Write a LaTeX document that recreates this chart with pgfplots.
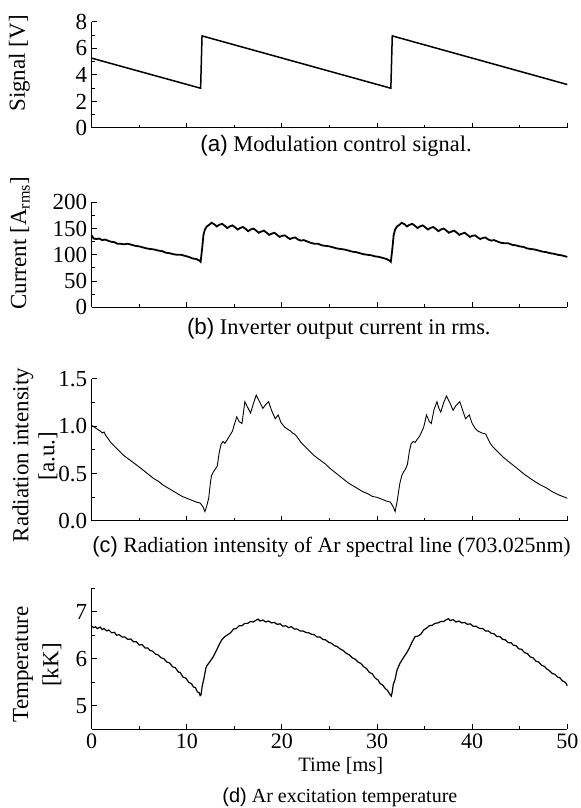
\documentclass[border=0pt]{standalone}
\usepackage{fontspec}
\setmainfont{Liberation Serif}
\newfontfamily\capsans{Liberation Sans}
\usepackage{pgfplots}
\pgfplotsset{compat=1.18}

% one pixel of the reference = 0.5pt
\pgfplotsset{
  panel/.style={
    scale only axis, width=237.8pt,
    xmin=0, xmax=50,
    axis lines=left, axis line style={-, line width=0.5pt},
    tick align=inside, tick style={line width=0.5pt, black},
    major tick length=2.6pt, minor tick length=1.5pt,
    xtick={0,10,...,50}, minor xtick={5,15,...,45},
    xticklabels={},
    /pgf/number format/assume math mode=true,
    tick label style={font=\fontsize{11.5}{13}\selectfont},
    xticklabel style={font=\fontsize{11}{13}\selectfont, inner sep=2pt},
    yticklabel style={xshift=1.3pt},
    clip=false,
  },
}

\begin{document}
\begin{tikzpicture}
\path[use as bounding box] (0,0) rectangle (290.5pt,404pt);

% (a) modulation control signal
\begin{axis}[panel, at={(45.85pt,340pt)}, anchor=south west, height=53pt,
  ymin=0, ymax=8, ytick={0,2,...,8}, minor ytick={1,3,5,7}]
\addplot[black, line width=0.75pt] coordinates {
  (0,5.27) (11.45,3.0) (11.6,6.95) (31.45,3.0) (31.6,6.95) (50,3.28)
};
\end{axis}

% (b) inverter output current
\begin{axis}[panel, at={(45.85pt,250.35pt)}, anchor=south west, height=52.5pt,
  ymin=0, ymax=200, ytick={0,50,...,200}, minor ytick={25,75,125,175}]
\addplot[black, line width=0.9pt] coordinates {
  (0,137) (0.2,131) (0.5,130) (0.8,131) (1.1,128) (1.4,129) (1.7,127) (2.0,125)
  (2.4,124) (2.7,121) (3.0,121) (3.4,120) (3.8,121) (4.2,119) (4.6,117) (5.0,116)
  (5.4,114) (5.8,112) (6.2,111) (6.6,110) (7.0,108) (7.4,107) (7.8,104) (8.2,103)
  (8.6,101) (9.0,100) (9.4,100) (9.8,98) (10.2,96) (10.6,93) (11.0,92) (11.4,88)
  (11.45,87) (11.6,110) (11.75,138) (11.9,148) (12.1,154) (12.35,157) (12.6,161)
  (12.9,158) (13.15,154) (13.4,157) (13.7,159) (14.0,155) (14.25,151) (14.5,154)
  (14.8,156) (15.1,152) (15.35,148) (15.6,151) (15.9,153) (16.2,149) (16.45,145)
  (16.7,148) (17.0,150) (17.3,146) (17.55,142) (17.8,144) (18.1,146) (18.4,142)
  (18.65,138) (18.9,140) (19.2,142) (19.5,138) (19.75,134) (20.0,136) (20.3,137)
  (20.6,133) (20.85,130) (21.1,132) (21.4,133) (21.7,129) (22.0,127) (22.3,128)
  (22.7,125) (23.0,123) (23.4,121) (23.8,121) (24.2,118) (24.6,117) (25.0,116)
  (25.4,114) (25.8,112) (26.2,111) (26.6,110) (27.0,108) (27.4,106) (27.8,105)
  (28.2,103) (28.6,101) (29.0,100) (29.4,99) (29.8,97) (30.2,96) (30.6,94)
  (31.0,92) (31.4,88)
  (31.45,87) (31.6,110) (31.75,138) (31.9,148) (32.1,154) (32.35,157) (32.6,161)
  (32.9,158) (33.15,154) (33.4,157) (33.7,159) (34.0,155) (34.25,151) (34.5,154)
  (34.8,156) (35.1,152) (35.35,148) (35.6,151) (35.9,153) (36.2,149) (36.45,145)
  (36.7,148) (37.0,150) (37.3,146) (37.55,142) (37.8,144) (38.1,146) (38.4,142)
  (38.65,138) (38.9,140) (39.2,142) (39.5,138) (39.75,134) (40.0,136) (40.3,137)
  (40.6,133) (40.85,130) (41.1,132) (41.4,133) (41.7,129) (42.0,127) (42.3,128)
  (42.7,125) (43.0,123) (43.4,122) (43.8,122) (44.2,119) (44.6,118) (45.0,116)
  (45.4,115) (45.8,112) (46.2,111) (46.6,110) (47.0,108) (47.4,106) (47.8,105)
  (48.2,103) (48.6,102) (49.0,100) (49.4,99) (49.8,97) (50,96)
};
\end{axis}

% (c) radiation intensity
\begin{axis}[panel, at={(45.85pt,143.5pt)}, anchor=south west, height=71pt,
  ymin=0, ymax=1.5, ytick={0,0.5,1,1.5}, minor ytick={0.25,0.75,1.25},
  yticklabel style={/pgf/number format/fixed, /pgf/number format/fixed zerofill,
    /pgf/number format/precision=1}]
\addplot[black, line width=0.45pt] coordinates {
  (0,1.01) (0.3,0.99) (0.6,0.97) (0.9,0.95) (1.1,0.93) (1.3,0.94) (1.5,0.90)
  (1.8,0.86) (2.0,0.83) (2.3,0.80) (2.6,0.77) (3.0,0.73) (3.4,0.69) (3.8,0.66)
  (4.2,0.63) (4.6,0.60) (5.0,0.57) (5.5,0.53) (6.0,0.49) (6.5,0.45) (7.0,0.42)
  (7.5,0.38) (8.0,0.35) (8.5,0.32) (9.0,0.29) (9.5,0.26) (10.0,0.24) (10.5,0.22)
  (11.0,0.20) (11.4,0.19) (11.7,0.15) (11.9,0.10) (12.1,0.16) (12.3,0.24)
  (12.5,0.42) (12.6,0.48) (12.8,0.52) (13.0,0.55) (13.2,0.58) (13.4,0.72)
  (13.6,0.81) (13.8,0.84) (14.0,0.82) (14.2,0.85) (14.5,0.90) (14.8,0.95)
  (15.0,1.02) (15.25,1.10) (15.5,1.05) (15.8,1.03) (16.1,1.26) (16.4,1.20)
  (16.7,1.14) (17.0,1.24) (17.3,1.33) (17.6,1.27) (18.0,1.19) (18.3,1.23)
  (18.6,1.26) (18.9,1.17) (19.3,1.08) (19.6,1.12) (19.9,1.04)
  (20.3,0.99) (20.6,0.97) (20.9,0.95) (21.1,0.93) (21.3,0.92) (21.5,0.90)
  (21.8,0.86) (22.0,0.83) (22.3,0.80) (22.6,0.77) (23.0,0.73) (23.4,0.69)
  (23.8,0.66) (24.2,0.63) (24.6,0.60) (25.0,0.56) (25.5,0.52) (26.0,0.48)
  (26.5,0.44) (27.0,0.40) (27.5,0.37) (28.0,0.34) (28.5,0.31) (29.0,0.29)
  (29.5,0.26) (30.0,0.25) (30.5,0.23) (31.0,0.21) (31.4,0.20) (31.7,0.15)
  (31.9,0.10) (32.1,0.20) (32.4,0.40) (32.6,0.48) (32.8,0.52) (33.0,0.55)
  (33.2,0.60) (33.4,0.74) (33.6,0.82) (33.8,0.84) (34.0,0.83) (34.2,0.86)
  (34.5,0.90) (34.9,0.99) (35.2,1.12) (35.5,1.05) (35.7,1.03) (36.0,1.18)
  (36.3,1.26) (36.5,1.19) (36.7,1.15) (37.0,1.25) (37.3,1.32) (37.6,1.26)
  (38.0,1.17) (38.3,1.22) (38.7,1.26) (39.0,1.17) (39.3,1.08) (39.7,1.12)
  (40.0,1.03) (40.3,0.98) (40.6,0.95) (41.0,0.93) (41.4,0.92) (41.6,0.88)
  (41.9,0.82) (42.2,0.78) (42.5,0.75) (42.9,0.71) (43.3,0.67) (43.8,0.63)
  (44.3,0.59) (44.8,0.55) (45.4,0.50) (46.1,0.45) (46.7,0.41) (47.2,0.38)
  (47.8,0.35) (48.4,0.31) (49.0,0.28) (49.5,0.26) (50,0.24)
};
\end{axis}

% (d) excitation temperature
\begin{axis}[panel, at={(45.85pt,39.25pt)}, anchor=south west, height=70.75pt,
  ymin=4.5, ymax=7.5, ytick={5,6,7}, minor ytick={4.5,5.5,6.5,7.5},
  xticklabels={0,10,20,30,40,50}]
\addplot[black, line width=0.6pt] coordinates {
  (0,6.69) (0.2,6.66) (0.4,6.68) (0.6,6.64) (0.9,6.67) (1.1,6.62) (1.3,6.64)
  (1.6,6.59) (1.8,6.61) (2.1,6.55) (2.4,6.56) (2.6,6.50) (2.9,6.51) (3.2,6.46)
  (3.5,6.46) (3.8,6.41) (4.1,6.42) (4.4,6.36) (4.7,6.36) (5.0,6.29) (5.3,6.30)
  (5.6,6.23) (5.9,6.23) (6.1,6.18) (6.4,6.16) (6.7,6.10) (7.0,6.08) (7.3,6.02)
  (7.6,6.00) (7.9,5.93) (8.2,5.91) (8.5,5.83) (8.8,5.81) (9.1,5.72) (9.3,5.71)
  (9.6,5.61) (9.9,5.59) (10.2,5.50) (10.5,5.47) (10.7,5.40) (10.9,5.39)
  (11.1,5.30) (11.3,5.28) (11.4,5.22) (11.5,5.24) (11.6,5.40) (11.8,5.58)
  (12.0,5.80) (12.1,5.85) (12.4,5.93) (12.8,6.05) (13.1,6.17) (13.4,6.30)
  (13.7,6.41) (14.0,6.47) (14.3,6.51) (14.6,6.55) (14.9,6.63) (15.2,6.64)
  (15.5,6.70) (15.8,6.70) (16.1,6.75) (16.4,6.75) (16.7,6.79) (17.0,6.78)
  (17.3,6.82) (17.5,6.84) (17.7,6.80) (18.0,6.82) (18.3,6.78) (18.6,6.80)
  (18.9,6.76) (19.2,6.77) (19.5,6.73) (19.8,6.74)
  (20.1,6.69) (20.4,6.70) (20.7,6.66) (21.0,6.68) (21.3,6.63) (21.6,6.63)
  (21.9,6.59) (22.2,6.59) (22.5,6.56) (22.8,6.55) (23.1,6.52) (23.4,6.51)
  (23.7,6.46) (24.0,6.46) (24.3,6.41) (24.6,6.40) (24.9,6.35) (25.2,6.33)
  (25.5,6.28) (25.8,6.26) (26.1,6.21) (26.4,6.18) (26.8,6.11) (27.1,6.08)
  (27.4,6.02) (27.7,5.99) (28.0,5.93) (28.3,5.90) (28.6,5.83) (28.9,5.79)
  (29.2,5.71) (29.5,5.68) (29.8,5.59) (30.1,5.55) (30.3,5.48) (30.6,5.44)
  (30.9,5.36) (31.1,5.33) (31.3,5.26) (31.5,5.21) (31.6,5.30) (31.7,5.45)
  (31.9,5.57) (32.1,5.76) (32.4,5.90) (32.7,6.00) (33.1,6.12) (33.4,6.23)
  (33.7,6.36) (34.0,6.47) (34.3,6.48) (34.6,6.52) (34.9,6.61) (35.2,6.65)
  (35.5,6.70) (35.8,6.71) (36.1,6.75) (36.4,6.76) (36.7,6.79) (37.0,6.79)
  (37.3,6.83) (37.5,6.85) (37.7,6.81) (38.0,6.83) (38.3,6.78) (38.6,6.80)
  (38.9,6.76) (39.2,6.77) (39.5,6.73) (39.8,6.74)
  (40.1,6.69) (40.4,6.69) (40.8,6.64) (41.1,6.64) (41.4,6.59) (41.7,6.59)
  (42.0,6.54) (42.3,6.53) (42.6,6.47) (42.9,6.47) (43.2,6.41) (43.5,6.40)
  (43.8,6.34) (44.1,6.34) (44.3,6.29) (44.6,6.28) (44.9,6.21) (45.2,6.20)
  (45.5,6.13) (45.8,6.11) (46.1,6.04) (46.4,6.02) (46.7,5.95) (47.0,5.93)
  (47.3,5.86) (47.6,5.84) (47.8,5.79) (48.1,5.75) (48.4,5.69) (48.7,5.67)
  (49.0,5.61) (49.2,5.60) (49.5,5.53) (49.8,5.50) (50,5.43)
};
\end{axis}

% axis titles and captions
\begin{scope}[every node/.style={font=\fontsize{11.5}{13}\selectfont, inner sep=0pt}]
\node[rotate=90] at (9.75pt,372.25pt) {Signal [V]};
\node[rotate=90] at (10pt,282.5pt) {Current [A\textsubscript{rms}]};
\node[rotate=90] at (11.5pt,176.5pt) {Radiation intensity};
\node[rotate=90] at (24pt,176pt) {[a.u.]};
\node[rotate=90] at (11.5pt,71.75pt) {Temperature};
\node[rotate=90] at (26pt,71.5pt) {[kK]};
\node[anchor=base west, font=\fontsize{10.2}{12}\selectfont] at (149pt,18pt) {Time [ms]};
\end{scope}
\begin{scope}[every node/.style={font=\fontsize{11.2}{13}\selectfont, inner sep=0pt}]
\node[anchor=base west] at (100pt,328pt) {{\capsans (a)} Modulation control signal.};
\node[anchor=base west] at (93.3pt,236.5pt) {{\capsans (b)} Inverter output current in rms.};
\node[anchor=base west, font=\fontsize{10.9}{13}\selectfont] at (46pt,127.5pt)
  {{\capsans (c)} Radiation intensity of Ar spectral line (703.025nm)};
\node[anchor=base west, font=\fontsize{10}{12}\selectfont] at (111pt,2.5pt)
  {{\capsans (d)} Ar excitation temperature};
\end{scope}
\end{tikzpicture}
\end{document}
